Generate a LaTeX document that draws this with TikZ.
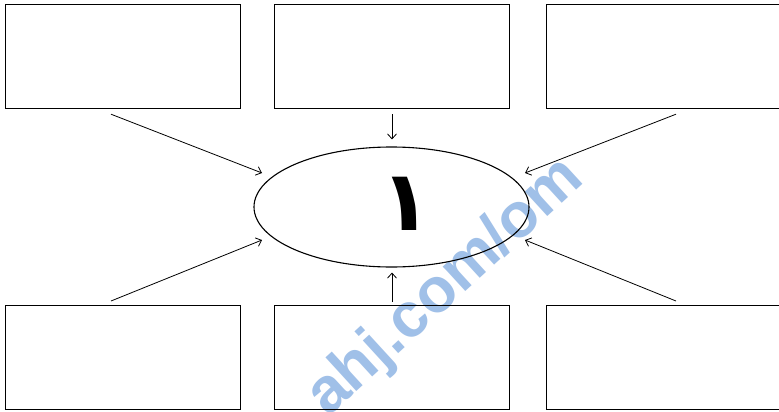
\documentclass[tikz,border=0pt]{standalone}
\usepackage{fontspec}
\usetikzlibrary{arrows.meta,calc,shapes.geometric}
\newfontfamily\arabicfont[Script=Arabic]{DejaVu Sans}
\newfontfamily\wmfont{Liberation Sans}
\definecolor{wmblue}{RGB}{160,192,232}
\TeXXeTstate=1
\begin{document}
\begin{tikzpicture}[x=1pt,y=-1pt,
  box/.style={draw=black,line width=1.2pt,minimum width=235pt,minimum height=104pt,inner sep=0pt,anchor=north west},
  conn/.style={line width=0.8pt,-{Straight Barb[length=5pt,width=9pt,line width=0.8pt]}}]
\useasboundingbox (0,0) rectangle (779,412);
\fill[white] (0,0) rectangle (779,412);
% watermark
\node[text=wmblue,rotate=42.5,anchor=base west,inner sep=0pt,font=\wmfont\bfseries\fontsize{63}{63}\selectfont] (wm) at (328,418) {ahj.com/om};
% boxes
\node[box] (tl) at (5,4) {};
\node[box] (tm) at (274,4) {};
\node[box] (tr) at (546,4) {};
\node[box] (bl) at (5,305) {};
\node[box] (bm) at (274,305) {};
\node[box] (br) at (546,305) {};
% ellipse
\node[draw,line width=1.1pt,ellipse,minimum width=275pt,minimum height=120pt,inner sep=0pt] (ell) at (391.5,207) {};
\node[inner sep=0pt] (one) at (406,204) {\arabicfont\bfseries\fontsize{84}{84}\selectfont\beginR ١\endR};
% connector end points
\coordinate (s1) at ($(tl.south west)+(106,5)$);
\coordinate (e1) at (262,173);
\coordinate (s2) at ($(bl.north west)+(106,-4)$);
\coordinate (e2) at (262,240);
\coordinate (s3) at ($(tr.south west)+(130,5)$);
\coordinate (e3) at (525,173);
\coordinate (s4) at ($(br.north west)+(130,-4)$);
\coordinate (e4) at (525,240);
\coordinate (s5) at ($(tm.south west)+(118,5)$);
\coordinate (e5) at ($(ell.north)+(0.5,-7)$);
\coordinate (s6) at ($(bm.north west)+(118,-3)$);
\coordinate (e6) at ($(ell.south)+(0.5,5)$);
\draw[conn] (s1) -- (e1);
\draw[conn] (s2) -- (e2);
\draw[conn] (s3) -- (e3);
\draw[conn] (s4) -- (e4);
\draw[conn] (s5) -- (e5);
\draw[conn] (s6) -- (e6);
\end{tikzpicture}
\end{document}
